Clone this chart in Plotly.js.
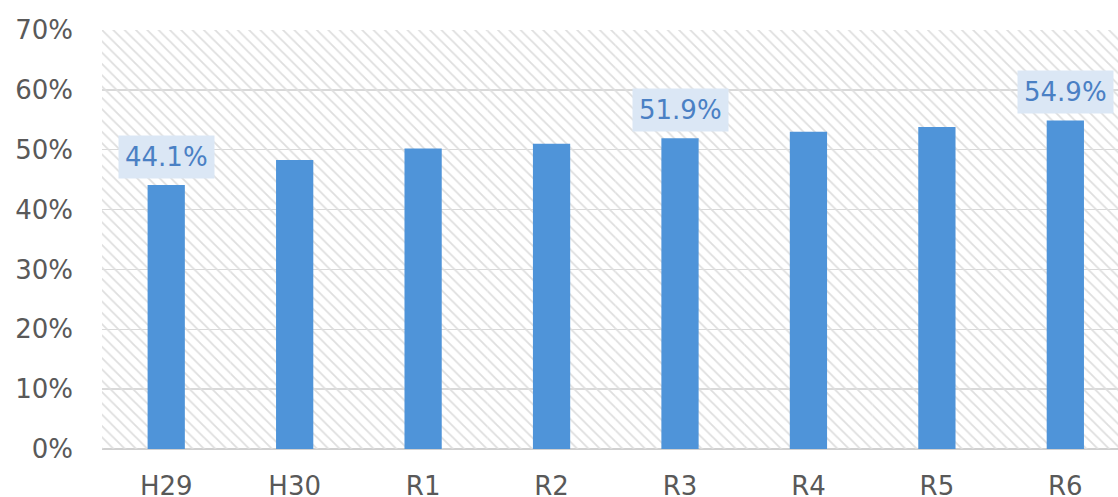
<!DOCTYPE html>
<html>
<head>
<meta charset="utf-8">
<script src="https://cdn.plot.ly/plotly-3.0.1.min.js"></script>
<style>
  html, body { margin: 0; padding: 0; background: #fff; }
  #chart { width: 1118px; height: 497px; }
</style>
</head>
<body>
<div id="chart"></div>
<script>
// fiscal years and rate (%)
var years = ["H29", "H30", "R1", "R2", "R3", "R4", "R5", "R6"];
var rates = [44.1, 48.3, 50.2, 51.0, 51.9, 53.0, 53.8, 54.9];
// which bars get a value label
var labeledYears = ["H29", "R3", "R6"];
var yMax = 70;

// hatched plot background, one full-width bar per category
var bgTrace = {
  x: years,
  y: years.map(() => yMax),
  type: "bar",
  width: 1,
  hoverinfo: "skip",
  showlegend: false,
  marker: {
    color: "#e0e0e0",
    line: { width: 0 },
    pattern: { shape: "\\", size: 8, solidity: 0.22, fgcolor: "#dedede", bgcolor: "rgba(0,0,0,0)", fillmode: "replace" }
  }
};

var barTrace = {
  x: years,
  y: rates,
  type: "bar",
  width: 0.29,
  showlegend: false,
  marker: { color: "#4f94d9", line: { width: 0 } }
};

var annotations = labeledYears.map(function (yr) {
  var v = rates[years.indexOf(yr)];
  return {
    x: yr,
    y: v,
    xref: "x",
    yref: "y",
    text: v.toFixed(1) + "%",
    showarrow: false,
    yanchor: "bottom",
    yshift: 6,
    bgcolor: "#dbe7f5",
    borderpad: 6,
    font: { family: "DejaVu Sans", size: 26, color: "#4a80c4" }
  };
});

var layout = {
  width: 1118,
  height: 497,
  margin: { l: 102, r: 0, t: 30, b: 48 },
  paper_bgcolor: "#fff",
  plot_bgcolor: "#fff",
  barmode: "overlay",
  font: { family: "DejaVu Sans", size: 26, color: "#595959" },
  xaxis: {
    type: "category",
    range: [-0.5, 7.41],
    showgrid: false,
    zeroline: false,
    showline: false,
    ticks: "",
    ticklabelstandoff: 19,
    fixedrange: true
  },
  yaxis: {
    range: [0, yMax],
    dtick: 10,
    ticksuffix: "%",
    showgrid: true,
    gridcolor: "#d9d9d9",
    gridwidth: 1.3,
    zeroline: true,
    zerolinecolor: "#d0d0d0",
    zerolinewidth: 1.5,
    showline: false,
    ticks: "",
    ticklabelstandoff: 28,
    fixedrange: true
  },
  annotations: annotations
};

Plotly.newPlot("chart", [bgTrace, barTrace], layout, { displayModeBar: false, staticPlot: true });
</script>
</body>
</html>
